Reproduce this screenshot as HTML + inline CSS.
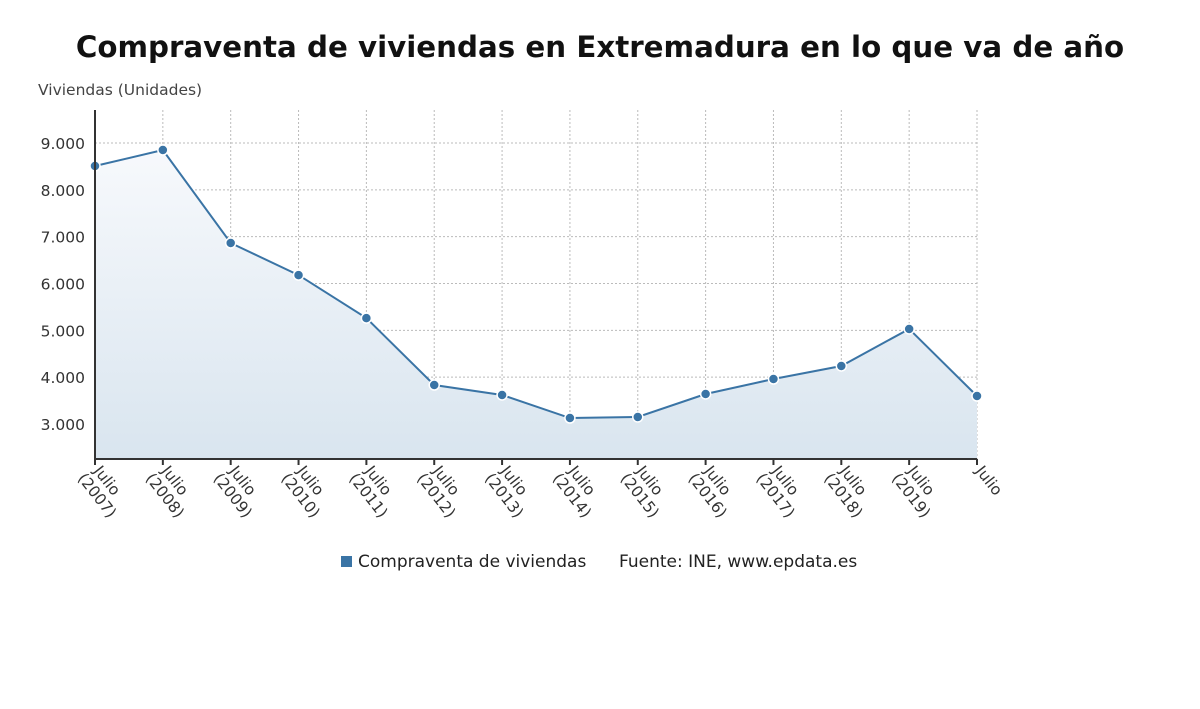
<!DOCTYPE html>
<html><head><meta charset="utf-8"><style>
body{margin:0;background:#fff;font-family:"DejaVu Sans","Liberation Sans",sans-serif;}
svg text{font-family:"DejaVu Sans","Liberation Sans",sans-serif;}
</style></head><body>
<svg id="c" width="1200" height="705" xmlns="http://www.w3.org/2000/svg">
<defs><linearGradient id="g" x1="0" y1="0" x2="0" y2="1"><stop offset="0" stop-color="#f7f9fc"/><stop offset="1" stop-color="#d9e5ef"/></linearGradient></defs>
<text x="600" y="57" text-anchor="middle" font-size="29.3" font-weight="bold" fill="#111">Compraventa de viviendas en Extremadura en lo que va de año</text>
<text x="38" y="95" font-size="15.5" fill="#444">Viviendas (Unidades)</text>
<g id="grid"></g><g id="area"></g><g id="line"></g><g id="axes"></g>
<rect x="341" y="556" width="11" height="11" fill="#3a74a5"/>
<text x="358" y="567" font-size="17" fill="#222">Compraventa de viviendas</text>
<text x="619" y="567" font-size="17" fill="#222">Fuente: INE, www.epdata.es</text>
</svg>
<script>
const categories=["Julio (2007)","Julio (2008)","Julio (2009)","Julio (2010)","Julio (2011)","Julio (2012)","Julio (2013)","Julio (2014)","Julio (2015)","Julio (2016)","Julio (2017)","Julio (2018)","Julio (2019)","Julio"];
const values=[8509,8850,6865,6180,5262,3832,3620,3128,3150,3641,3961,4239,5030,3598];
const yTicks=[3000,4000,5000,6000,7000,8000,9000];
const yTickLabels=["3.000","4.000","5.000","6.000","7.000","8.000","9.000"];
const NS="http://www.w3.org/2000/svg";
const X0=95,X1=977,YT=110,YB=459,VMIN=2253,VMAX=9705;
const x=i=>X0+i*(X1-X0)/(categories.length-1);
const y=v=>YB-(v-VMIN)/(VMAX-VMIN)*(YB-YT);
function mk(t,a,p){const e=document.createElementNS(NS,t);for(const k in a)e.setAttribute(k,a[k]);p.appendChild(e);return e;}
const grid=document.getElementById('grid'),area=document.getElementById('area'),line=document.getElementById('line'),axes=document.getElementById('axes');
yTicks.forEach((v,i)=>{
 const l=mk('line',{x1:X0,x2:X1,y1:y(v),y2:y(v),stroke:'#bbb','stroke-dasharray':'2,2'},grid);
 
 
 const t=mk('text',{x:85,y:y(v)+6,'text-anchor':'end','font-size':15.5,fill:'#333'},axes);
 t.textContent=yTickLabels[i];
 
 
});
categories.forEach((c,i)=>{
 const l=mk('line',{x1:x(i),x2:x(i),y1:YT,y2:YB,stroke:'#bbb','stroke-dasharray':'2,2'},grid);
 
 
 mk('line',{x1:x(i),x2:x(i),y1:YB,y2:YB+6,stroke:'#333','stroke-width':2},axes);
 const t=mk('text',{transform:`translate(${x(i)-2},${YB+12}) rotate(52)`,'font-size':15.5,fill:'#333'},axes);
 
 
 const m=c.match(/^(\S+)\s*(.*)$/);
 const a=mk('tspan',{x:0,dy:0},t);a.textContent=m[1];
 if(m[2]){const b=mk('tspan',{x:-4,dy:17},t);b.textContent=m[2];}
});
let d='M'+x(0)+','+YB;values.forEach((v,i)=>d+=' L'+x(i)+','+y(v));d+=' L'+x(values.length-1)+','+YB+' Z';
const ar=mk('path',{d,fill:'url(#g)'},area);


const pl=mk('polyline',{points:values.map((v,i)=>x(i)+','+y(v)).join(' '),fill:'none',stroke:'#3a74a5','stroke-width':2},line);


values.forEach((v,i)=>{
 const p=mk('circle',{cx:x(i),cy:y(v),r:5,fill:'#3a74a5',stroke:'#fff','stroke-width':1.5},line);
 
 
});
const ax=mk('line',{x1:X0,x2:X0,y1:YT,y2:YB,stroke:'#333','stroke-width':2},axes);


const bx=mk('line',{x1:X0,x2:X1,y1:YB,y2:YB,stroke:'#333','stroke-width':2},axes);


</script>
</body></html>
